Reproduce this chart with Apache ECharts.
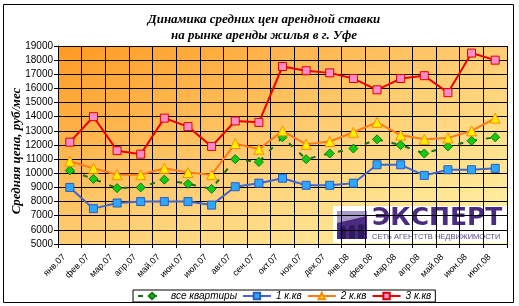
<!DOCTYPE html>
<html>
<head>
<meta charset="utf-8">
<script src="https://cdn.jsdelivr.net/npm/echarts@6/dist/echarts.min.js"></script>
<style>html,body{margin:0;padding:0;background:#fff}#c{width:519px;height:306px}</style>
</head>
<body>
<div id="c"></div>
<script>
var categories = ['янв.07','фев.07','мар.07','апр.07','май.07','июн.07','июл.07','авг.07','сен.07','окт.07','ноя.07','дек.07','янв.08','фев.08','мар.08','апр.08','май.08','июн.08','июл.08'];
var allFlats = [10200, 9600, 8950, 9000, 9550, 9250, 8900, 11000, 10800, 12550, 11000, 11400, 11750, 12400, 12000, 11400, 11900, 12300, 12550];
var room1 = [9000, 7500, 7900, 8000, 8000, 8000, 7750, 9050, 9300, 9650, 9150, 9150, 9300, 10600, 10600, 9850, 10250, 10250, 10350];
var room2 = [10850, 10350, 9900, 9900, 10350, 10050, 9900, 12100, 11700, 13000, 12050, 12250, 12900, 13600, 12700, 12400, 12500, 13000, 13900];
var room3 = [12200, 14000, 11600, 11350, 13900, 13300, 11900, 13700, 13600, 17550, 17250, 17100, 16700, 15900, 16700, 16900, 15700, 18500, 18000];
var seriesNames = ['все квартиры', '1 к.кв', '2 к.кв', '3 к.кв'];
var titleLines = ['Динамика средних цен арендной ставки', 'на рынке аренды жилья в г. Уфе'];
var yAxisName = 'Средняя цена, руб/мес';
var yMin = 5000, yMax = 19000, yStep = 1000;

var chart = echarts.init(document.getElementById('c'), null, {renderer: 'canvas'});
var purple = '#4b2c82';
var option = {
  animation: false,
  backgroundColor: '#fff',
  title: {
    text: titleLines.join('\n'),
    left: 259, top: 7, textAlign: 'center',
    textStyle: {fontFamily: 'Liberation Serif', fontStyle: 'italic', fontWeight: 'bold', fontSize: 13, lineHeight: 16, color: '#000'}
  },
  grid: {
    left: 58, right: 12, top: 46, bottom: 62,
    show: true, borderWidth: 0,
    backgroundColor: new echarts.graphic.LinearGradient(0, 0, 0.324, 1.68, [
      {offset: 0, color: '#ff9a22'},
      {offset: 0.5, color: '#ffcd72'},
      {offset: 1, color: '#fff6aa'}
    ])
  },
  legend: {
    data: seriesNames,
    left: 133, bottom: 4,
    itemWidth: 28, itemHeight: 8, itemGap: 5,
    padding: [1, 4],
    borderColor: '#000', borderWidth: 1, backgroundColor: '#fff',
    textStyle: {fontFamily: 'Liberation Sans', fontStyle: 'italic', fontSize: 10, color: '#000'}
  },
  xAxis: {
    type: 'category', data: categories, boundaryGap: true,
    axisLine: {lineStyle: {color: '#000', width: 1}},
    axisTick: {show: true, length: 4, lineStyle: {color: '#000'}},
    splitLine: {show: true, lineStyle: {color: '#000', width: 1}},
    axisLabel: {interval: 0, rotate: 45, fontSize: 9, fontFamily: 'Liberation Sans', color: '#000', margin: 6, padding: [0, 8, 16, 0]}
  },
  yAxis: {
    type: 'value', min: yMin, max: yMax, interval: yStep,
    axisLine: {show: true, lineStyle: {color: '#000', width: 1}},
    axisTick: {show: true, length: 4, lineStyle: {color: '#000'}},
    splitLine: {show: true, lineStyle: {color: '#000', width: 1}},
    axisLabel: {fontSize: 10, fontFamily: 'Liberation Sans', color: '#000', margin: 5, formatter: function (v) { return String(v); }}
  },
  graphic: [
    {type: 'rect', shape: {x: 3.5, y: 4.5, width: 510, height: 298}, style: {fill: 'none', stroke: '#000', lineWidth: 1}, z: 100, silent: true},
    {type: 'text', x: 17, y: 151, rotation: Math.PI / 2, style: {text: yAxisName, fontFamily: 'Liberation Serif', fontStyle: 'italic', fontWeight: 'bold', fontSize: 13, fill: '#000', align: 'center', verticalAlign: 'middle'}},
    {type: 'group', z: 50, children: [
      {type: 'rect', shape: {x: 333, y: 206, width: 174, height: 37}, style: {fill: '#fff'}},
      {type: 'rect', shape: {x: 337, y: 211, width: 30, height: 28}, style: {fill: purple}},
      {type: 'polygon', shape: {points: [[337, 211], [367, 211], [367, 216], [337, 223]]}, style: {fill: '#a79cc8'}},
      {type: 'rect', shape: {x: 340, y: 226, width: 6, height: 13, r: [3, 3, 0, 0]}, style: {fill: '#2d1a5a'}},
      {type: 'rect', shape: {x: 349, y: 225, width: 6, height: 14, r: [3, 3, 0, 0]}, style: {fill: '#2d1a5a'}},
      {type: 'rect', shape: {x: 358, y: 224, width: 6, height: 15, r: [3, 3, 0, 0]}, style: {fill: '#2d1a5a'}},
      {type: 'text', x: 372, y: 219, scaleX: 1.04, style: {text: 'ЭКСПЕРТ', fontFamily: 'DejaVu Sans', fontWeight: 'bold', fontSize: 24, fill: purple, verticalAlign: 'middle'}},
      {type: 'text', x: 372, y: 236.5, style: {text: 'СЕТЬ АГЕНТСТВ НЕДВИЖИМОСТИ', fontFamily: 'Liberation Sans', fontSize: 7.5, fill: '#5a4a8a', verticalAlign: 'middle'}}
    ]}
  ],
  series: [
    {name: seriesNames[0], type: 'line', data: allFlats, symbol: 'diamond', symbolSize: 9,
     lineStyle: {color: '#1a6e1a', width: 2, type: [5, 9]},
     itemStyle: {color: '#11cc11', borderColor: '#0a7a0a', borderWidth: 1}, z: 3},
    {name: seriesNames[1], type: 'line', data: room1, symbol: 'rect', symbolSize: 8,
     lineStyle: {color: '#4466cc', width: 2},
     itemStyle: {color: '#2ea8ff', borderColor: '#2a5cc0', borderWidth: 1}, z: 4},
    {name: seriesNames[2], type: 'line', data: room2, symbol: 'triangle', symbolSize: 10,
     lineStyle: {color: '#ff7a1a', width: 2},
     itemStyle: {color: '#ffee00', borderColor: '#ff8c00', borderWidth: 1}, z: 5},
    {name: seriesNames[3], type: 'line', data: room3, symbol: 'rect', symbolSize: 8,
     lineStyle: {color: '#ee0000', width: 2},
     itemStyle: {color: '#ff8cc6', borderColor: '#dd0000', borderWidth: 1}, z: 6}
  ]
};
chart.setOption(option);
</script>
</body>
</html>
